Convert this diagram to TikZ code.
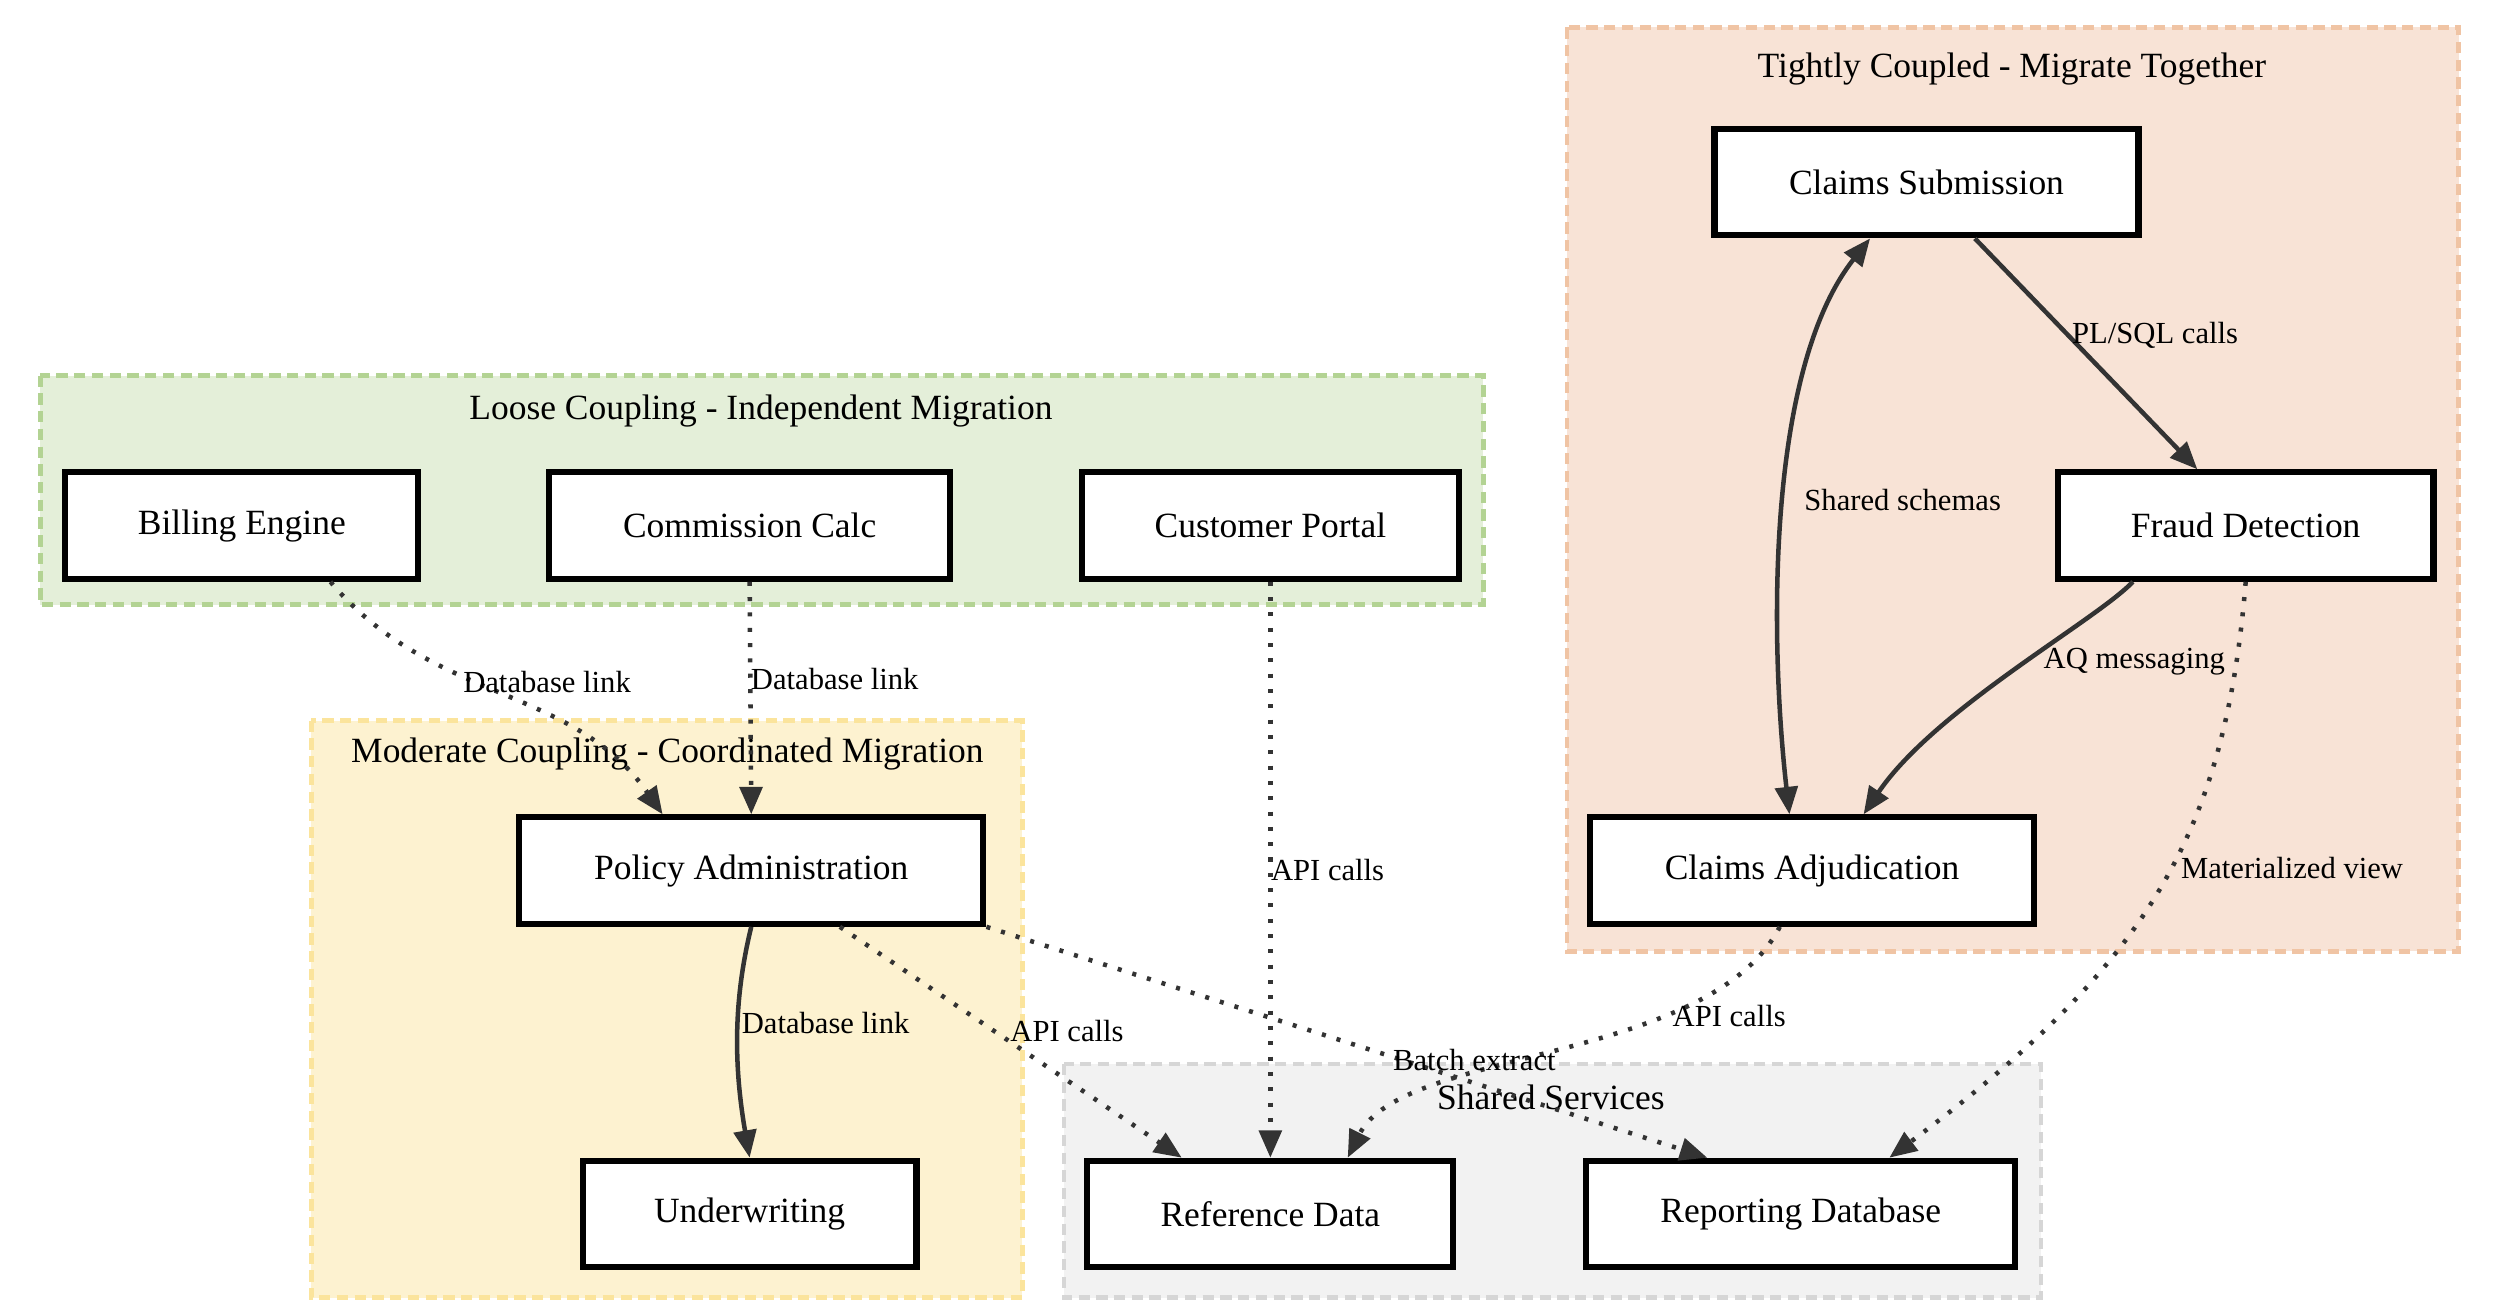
\documentclass[tikz,border=0pt]{standalone}
\usepackage{fontspec}
\setmainfont{Liberation Serif}
\usetikzlibrary{arrows.meta}
\definecolor{ec}{HTML}{333333}
\definecolor{gfill}{HTML}{E4EFD9}
\definecolor{gdraw}{HTML}{B3D393}
\definecolor{ofill}{HTML}{F8E3D6}
\definecolor{odraw}{HTML}{F0C4A4}
\definecolor{yfill}{HTML}{FDF2D0}
\definecolor{ydraw}{HTML}{FBE49C}
\definecolor{sfill}{HTML}{F2F2F2}
\definecolor{sdraw}{HTML}{D6D6D6}
\tikzset{
  box/.style={draw=black,line width=3.8pt,fill=white,minimum width=#1,minimum height=66pt,font=\fontsize{22}{26}\selectfont},
  clu/.style={line width=3pt,dash pattern=on 7pt off 4pt},
  ctitle/.style={font=\fontsize{22}{26}\selectfont},
  con/.style={draw=ec,line width=2.8pt,-{Triangle[length=17pt,width=14pt]}},
  dot/.style={con,dash pattern=on 2.5pt off 7pt},
  lab/.style={font=\fontsize{19}{22}\selectfont,text=black,inner sep=1pt}
}
\begin{document}
\begin{tikzpicture}[x=1pt,y=-1pt]
\useasboundingbox (0,0) rectangle (1552,809);
% clusters
\draw[clu,draw=gdraw,fill=gfill] (25,233) rectangle (920,375);
\draw[clu,draw=odraw,fill=ofill] (972,17) rectangle (1525,590);
\draw[clu,draw=ydraw,fill=yfill] (193,447) rectangle (634,805);
\draw[clu,draw=sdraw,fill=sfill] (660,660) rectangle (1266,805);
\node[ctitle] (t1) at (472,255) {Loose Coupling - Independent Migration};
\node[ctitle] (t2) at (1248,43) {Tightly Coupled - Migrate Together};
\node[ctitle] (t3) at (414,468) {Moderate Coupling - Coordinated Migration};
\node[ctitle] (t4) at (962,681) {Shared Services};
% nodes
\node[box=219pt] (be) at (150,326) {Billing Engine};
\node[box=249pt] (cc) at (465,326) {Commission Calc};
\node[box=234pt] (cp) at (788,326) {Customer Portal};
\node[box=263pt] (cs) at (1195,113) {Claims Submission};
\node[box=233pt] (fd) at (1393,326) {Fraud Detection};
\node[box=275pt] (ca) at (1124,540) {Claims Adjudication};
\node[box=288pt] (pa) at (466,540) {Policy Administration};
\node[box=207pt] (uw) at (465,753) {Underwriting};
\node[box=227pt] (rd) at (788,753) {Reference Data};
\node[box=266pt] (rp) at (1117,753) {Reporting Database};
% edges
\draw[dot] ([xshift=55pt]be.south) to[out=-50,in=125] node[pos=0.42,lab,right,xshift=-8pt]{Database link} ([xshift=-55pt]pa.north);
\draw[dot] (cc.south) -- node[lab,right,xshift=-2pt,pos=0.42]{Database link} (pa.north);
\draw[dot] (cp.south) -- node[lab,right,xshift=-2pt]{API calls} (rd.north);
\draw[con] ([xshift=30pt]cs.south) -- node[lab,right,pos=0.42]{PL/SQL calls} ([xshift=-30pt]fd.north);
\draw[con,{Triangle[length=17pt,width=14pt]}-{Triangle[length=17pt,width=14pt]}] ([xshift=-35pt]cs.south) .. controls (1095,230) and (1098,400) .. node[lab,right,pos=0.48,xshift=10pt]{Shared schemas} ([xshift=-14pt]ca.north);
\draw[con] ([xshift=-70pt]fd.south) .. controls (1300,385) and (1200,440) .. node[lab,right,pos=0.45,xshift=8pt]{AQ messaging} ([xshift=32pt]ca.north);
\draw[dot] (fd.south) .. controls (1380,520) and (1330,600) .. node[lab,right,pos=0.45,xshift=4pt]{Materialized view} ([xshift=55pt]rp.north);
\draw[dot] ([xshift=-20pt]ca.south) .. controls (1060,660) and (870,650) .. node[lab,pos=0.3,right,xshift=2pt]{API calls} ([xshift=48pt]rd.north);
\draw[con] (pa.south) .. controls (455,620) and (455,660) .. node[lab,right,pos=0.45]{Database link} (uw.north);
\draw[dot] ([xshift=55pt]pa.south) -- node[lab,right,pos=0.45,xshift=8pt]{API calls} ([xshift=-55pt]rd.north);
\draw[dot] (pa.south east) -- node[lab,right,pos=0.55,yshift=-4pt,xshift=4pt]{Batch extract} ([xshift=-58pt]rp.north);
\end{tikzpicture}
\end{document}
